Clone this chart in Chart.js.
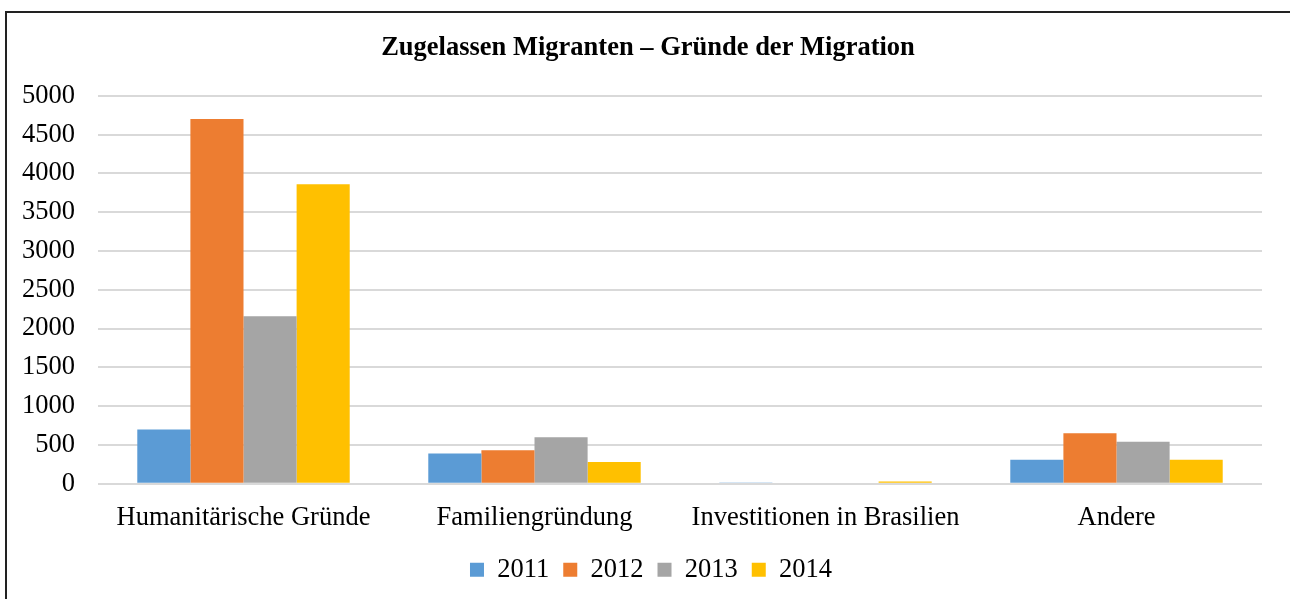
<!DOCTYPE html>
<html><head><meta charset="utf-8">
<script src="https://cdn.jsdelivr.net/npm/chart.js@4"></script>
<style>
html,body{margin:0;padding:0;background:#fff;overflow:hidden}
#wrap{position:relative;width:1290px;height:599px}
#frame{position:absolute;left:5px;top:11px;width:1290px;height:700px;border:2px solid #222;box-sizing:border-box}
canvas{position:absolute;left:0;top:0}
</style></head><body>
<div id="wrap"><div id="frame"></div><canvas id="c" width="1290" height="599"></canvas></div>
<script>
const categories = ["Humanitärische Gründe","Familiengründung","Investitionen in Brasilien","Andere"];
const years = ["2011","2012","2013","2014"];
const v2011 = [700, 390, 16, 310];
const v2012 = [4700, 430, 0, 650];
const v2013 = [2160, 600, 0, 540];
const v2014 = [3860, 280, 28, 310];
const yTicks = [0,500,1000,1500,2000,2500,3000,3500,4000,4500,5000];
const colors = ["#5b9bd5","#ed7d31","#a5a5a5","#ffc000"];
const series = [v2011, v2012, v2013, v2014];

const font = "'Liberation Serif', 'Times New Roman', serif";
const FS = 26.5;
const shiftPlugin = {
  id:'shift',
  afterLayout(chart){
    if (chart.titleBlock){ chart.titleBlock.left += 11; chart.titleBlock.right += 11; }
    if (chart.legend){ chart.legend.left += 14; chart.legend.right += 14; }
  }
};
new Chart(document.getElementById('c'), {
  type: 'bar',
  plugins:[shiftPlugin],
  data: {
    labels: categories,
    datasets: years.map((y,i)=>({label:y, data:series[i], backgroundColor:colors[i], borderWidth:0,
      barPercentage:1, categoryPercentage:0.73}))
  },
  options: {
    responsive:false, animation:false,
    layout:{padding:{left:12,right:28,top:22,bottom:6}},
    plugins:{
      title:{display:true,text:'Zugelassen Migranten – Gründe der Migration',color:'#000',
        font:{family:font,size:FS,weight:'bold'},padding:{top:10,bottom:32}},
      legend:{position:'bottom',labels:{color:'#000',font:{family:font,size:FS},boxWidth:14,boxHeight:14,padding:14}},
      tooltip:{enabled:false}
    },
    scales:{
      x:{grid:{display:false},border:{display:false},
        afterFit:(s)=>{s.height-=1;},
        ticks:{color:'#000',font:{family:font,size:FS},padding:10}},
      y:{min:0,max:5000,afterBuildTicks:(s)=>{s.ticks=yTicks.map(v=>({value:v}));},
        afterFit:(s)=>{s.width=86;},
        grid:{color:'#d9d9d9',lineWidth:2,drawTicks:false},border:{display:false},
        ticks:{color:'#000',font:{family:font,size:FS},padding:23,callback:(v)=>String(v)}}
    }
  }
});
</script></body></html>
